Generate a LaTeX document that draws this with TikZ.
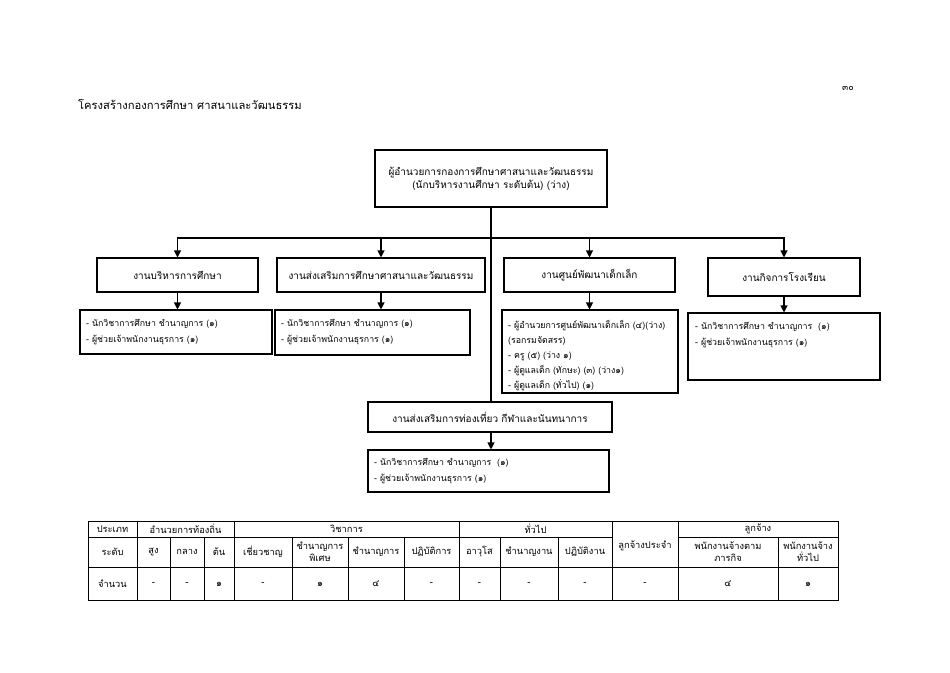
\documentclass[tikz,border=0pt]{standalone}
\usepackage{fontspec}
\setmainfont[Script=Thai]{Loma}
\usetikzlibrary{arrows.meta}
\tikzset{
  hbox/.style={draw, line width=1.1pt, inner sep=2pt, align=center, font=\fontsize{10}{13}\selectfont},
  cbox/.style={draw, line width=1.1pt, inner sep=0pt},
  ctext/.style={align=left, inner sep=0pt, font=\fontsize{8.8}{16}\selectfont},
  arr/.style={line width=1.1pt, -{Triangle[length=7pt,width=7pt]}},
  con/.style={line width=1.1pt},
  tl/.style={line width=0.6pt},
  tt/.style={font=\fontsize{9.3}{12}\selectfont, align=center, inner sep=0pt},
}
\begin{document}
\begin{tikzpicture}[x=1pt,y=-1pt]
\useasboundingbox (0,0) rectangle (950,672);
% title and page number
\node[anchor=west, inner sep=0pt, font=\fontsize{11.2}{13}\selectfont] (title) at (78,104) {โครงสร้างกองการศึกษา ศาสนาและวัฒนธรรม};
\node[inner sep=0pt, font=\fontsize{9}{11}\selectfont] (pagenum) at (848,88) {๓๐};
% top box
\node[hbox, line width=1.6pt, minimum width=232pt, minimum height=57pt] (top) at (491,178.5)
  {ผู้อำนวยการกองการศึกษาศาสนาและวัฒนธรรม\\(นักบริหารงานศึกษา ระดับต้น) (ว่าง)};
% level 2
\node[hbox, minimum width=161pt, minimum height=34pt] (A) at (177.5,275) {งานบริหารการศึกษา};
\node[hbox, minimum width=208pt, minimum height=34pt] (B) at (381,275) {งานส่งเสริมการศึกษาศาสนาและวัฒนธรรม};
\node[hbox, minimum width=171pt, minimum height=34pt] (C) at (589.5,275) {งานศูนย์พัฒนาเด็กเล็ก};
\node[hbox, minimum width=152pt, minimum height=38pt] (D) at (784,277) {งานกิจการโรงเรียน};
\node[hbox, minimum width=244pt, minimum height=30pt] (E) at (490,417) {งานส่งเสริมการท่องเที่ยว กีฬาและนันทนาการ};
% level 3 boxes
\node[cbox, minimum width=192pt, minimum height=44pt] (A3) at (176,332) {};
\node[ctext, anchor=north west] (A3t) at (86,319) {- นักวิชาการศึกษา ชำนาญการ (๑)\\- ผู้ช่วยเจ้าพนักงานธุรการ (๑)};
\node[cbox, minimum width=195pt, minimum height=45pt] (B3) at (372.5,332.5) {};
\node[ctext, anchor=north west] (B3t) at (281,319) {- นักวิชาการศึกษา ชำนาญการ (๑)\\- ผู้ช่วยเจ้าพนักงานธุรการ (๑)};
\node[cbox, minimum width=176pt, minimum height=83pt] (C3) at (590,351.5) {};
\node[ctext, anchor=north west, font=\fontsize{8.8}{15}\selectfont] (C3t) at (508,320) {- ผู้อำนวยการศูนย์พัฒนาเด็กเล็ก (๔)(ว่าง)\\(รอกรมจัดสรร)\\- ครู (๕) (ว่าง ๑)\\- ผู้ดูแลเด็ก (ทักษะ) (๓) (ว่าง๑)\\- ผู้ดูแลเด็ก (ทั่วไป) (๑)};
\node[cbox, minimum width=192pt, minimum height=67pt] (D3) at (784,346.5) {};
\node[ctext, anchor=north west] (D3t) at (695,322) {- นักวิชาการศึกษา ชำนาญการ \ (๑)\\- ผู้ช่วยเจ้าพนักงานธุรการ (๑)};
\node[cbox, minimum width=241pt, minimum height=42pt] (E3) at (488.5,471) {};
\node[ctext, anchor=north west] (E3t) at (374,458.5) {- นักวิชาการศึกษา ชำนาญการ \ (๑)\\- ผู้ช่วยเจ้าพนักงานธุรการ (๑)};
% connectors
\coordinate (hub) at (491,238);
\draw[con] (top.south) -- (top.south |- E.north);
\draw[arr] (hub) -| (A.north);
\draw[arr] (hub) -| (B.north);
\draw[arr] (hub) -| (C.north);
\draw[arr] (hub) -| (D.north);
\draw[arr] (A.south) -- (A.south |- A3.north);
\draw[arr] (B.south) -- (B.south |- B3.north);
\draw[arr] (C.south) -- (C.south |- C3.north);
\draw[arr] (D.south) -- (D.south |- D3.north);
\draw[arr] (E.south -| top.south) -- (top.south |- E3.north);
% table
\draw[tl] (88,521) rectangle (838,600);
\draw[tl] (88,537) -- (612,537) (678,537) -- (838,537);
\draw[tl] (88,567) -- (838,567);
\foreach \x in {137,234,459,612,678} \draw[tl] (\x,521) -- (\x,600);
\foreach \x in {170,204,292,348,404,500,558,778} \draw[tl] (\x,537) -- (\x,600);
% header row 1
\node[tt] (h1) at (112.5,529) {ประเภท};
\node[tt] (h2) at (185.5,529) {อำนวยการท้องถิ่น};
\node[tt] (h3) at (346.5,529) {วิชาการ};
\node[tt] (h4) at (535.5,529) {ทั่วไป};
\node[tt] (h5) at (645,546) {ลูกจ้างประจำ};
\node[tt] (h6) at (758,529) {ลูกจ้าง};
% header row 2
\node[tt] (r1) at (112.5,552) {ระดับ};
\node[tt] (r2) at (153.5,552) {สูง};
\node[tt] (r3) at (187,552) {กลาง};
\node[tt] (r4) at (219,552) {ต้น};
\node[tt] (r5) at (263,552) {เชี่ยวชาญ};
\node[tt] (r6) at (320,552) {ชำนาญการ\\พิเศษ};
\node[tt] (r7) at (376,552) {ชำนาญการ};
\node[tt] (r8) at (431.5,552) {ปฏิบัติการ};
\node[tt] (r9) at (479.5,552) {อาวุโส};
\node[tt] (r10) at (529,552) {ชำนาญงาน};
\node[tt] (r11) at (585,552) {ปฏิบัติงาน};
\node[tt] (r12) at (728,552) {พนักงานจ้างตาม\\ภารกิจ};
\node[tt] (r13) at (808,552) {พนักงานจ้าง\\ทั่วไป};
% row 3
\node[tt] (v1) at (112.5,584) {จำนวน};
\node[tt] (v2) at (153.5,584) {-};
\node[tt] (v3) at (187,584) {-};
\node[tt] (v4) at (219,584) {๑};
\node[tt] (v5) at (263,584) {-};
\node[tt] (v6) at (320,584) {๑};
\node[tt] (v7) at (376,584) {๔};
\node[tt] (v8) at (431.5,584) {-};
\node[tt] (v9) at (479.5,584) {-};
\node[tt] (v10) at (529,584) {-};
\node[tt] (v11) at (585,584) {-};
\node[tt] (v12) at (645,584) {-};
\node[tt] (v13) at (728,584) {๔};
\node[tt] (v14) at (808,584) {๑};
\end{tikzpicture}
\end{document}
